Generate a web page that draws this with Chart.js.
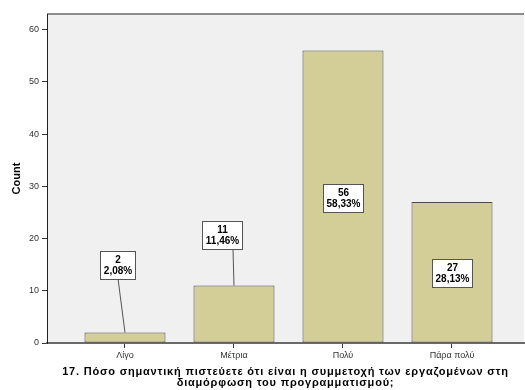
<!DOCTYPE html>
<html>
<head>
<meta charset="utf-8">
<script src="https://cdn.jsdelivr.net/npm/chart.js@4"></script>
<style>
    html, body { margin: 0; padding: 0; background: #fff; overflow: hidden; }
    #wrap { width: 525px; height: 390px; }
</style>
</head>
<body>
<div id="wrap"><canvas id="chart" width="525" height="390"></canvas></div>
<script>
// Answers to question 17
const categories = ['Λίγο', 'Μέτρια', 'Πολύ', 'Πάρα πολύ'];
const counts = [2, 11, 56, 27];
const percents = ['2,08%', '11,46%', '58,33%', '28,13%'];
const yTicks = [0, 10, 20, 30, 40, 50, 60];
const xTitle = ['17. Πόσο σημαντική πιστεύετε ότι είναι η συμμετοχή των εργαζομένων στη',
                'διαμόρφωση του προγραμματισμού;'];

const FONT = '"Liberation Sans", Arial, sans-serif';

// Short bars get their label box lifted above the bar with a leader line
const callouts = [
    { dx: -7, dy: -68, lead: 0 },
    { dx: -12, dy: -51, lead: 11 },
    null,
    null
];

// Grey plot background with a border line on top
const plotBackground = {
    id: 'plotBackground',
    beforeDraw(chart) {
        const { ctx, chartArea: a } = chart;
        ctx.save();
        ctx.fillStyle = '#f0f0f0';
        ctx.fillRect(a.left, a.top, a.right - a.left, a.bottom - a.top);
        ctx.strokeStyle = '#8c8c8c';
        ctx.lineWidth = 2;
        ctx.beginPath();
        ctx.moveTo(a.left, a.top);
        ctx.lineTo(a.right, a.top);
        ctx.stroke();
        ctx.restore();
    }
};

// Count / percent boxes on each bar
const barLabels = {
    id: 'barLabels',
    afterDatasetsDraw(chart) {
        const ctx = chart.ctx;
        const meta = chart.getDatasetMeta(0);
        ctx.save();
        ctx.font = 'bold 10px ' + FONT;
        ctx.textAlign = 'center';
        ctx.textBaseline = 'middle';
        meta.data.forEach((bar, i) => {
            const lines = [String(counts[i]), percents[i]];
            const w = Math.ceil(Math.max(...lines.map(t => ctx.measureText(t).width))) + 6;
            const h = 28;
            let cx = bar.x;
            let cy = (bar.y + bar.base) / 2 + 1;
            const c = callouts[i];
            if (c) {
                cx = bar.x + c.dx;
                cy = bar.y + c.dy;
                ctx.strokeStyle = '#555';
                ctx.lineWidth = 1;
                ctx.beginPath();
                ctx.moveTo(cx + c.lead, cy + h / 2);
                ctx.lineTo(bar.x, bar.y);
                ctx.stroke();
            }
            const x0 = Math.round(cx - w / 2) + 0.5;
            const y0 = Math.round(cy - h / 2) + 0.5;
            ctx.fillStyle = '#fff';
            ctx.fillRect(x0, y0, w, h);
            ctx.strokeStyle = '#555';
            ctx.lineWidth = 1;
            ctx.strokeRect(x0, y0, w, h);
            ctx.fillStyle = '#000';
            ctx.fillText(lines[0], x0 + w / 2, y0 + h / 2 - 5);
            ctx.fillText(lines[1], x0 + w / 2, y0 + h / 2 + 6);
        });
        ctx.restore();
    }
};

// Two-line variable title under the x axis, slightly letter-spaced
const axisTitle = {
    id: 'axisTitle',
    afterDraw(chart) {
        const { ctx, chartArea: a } = chart;
        ctx.save();
        ctx.font = 'bold 11px ' + FONT;
        ctx.letterSpacing = '0.8px';
        ctx.fillStyle = '#000';
        ctx.textAlign = 'center';
        ctx.textBaseline = 'middle';
        const cx = (a.left + a.right) / 2;
        xTitle.forEach((t, i) => ctx.fillText(t, cx, 371.5 + i * 11.5));
        ctx.restore();
    }
};

new Chart(document.getElementById('chart'), {
    type: 'bar',
    data: {
        datasets: [{
            data: counts.map((v, i) => ({ x: i, y: v })),
            backgroundColor: '#d3ce97',
            borderColor: '#4a4a4a',
            borderWidth: 1,
            borderSkipped: false,
            categoryPercentage: 1,
            barPercentage: 0.743
        }]
    },
    options: {
        responsive: false,
        animation: false,
        layout: { padding: { top: 14, right: 1, left: 0, bottom: 0 } },
        plugins: {
            legend: { display: false },
            tooltip: { enabled: false }
        },
        scales: {
            x: {
                type: 'linear',
                offset: false,
                min: -0.7156,
                max: 3.6606,
                afterBuildTicks: scale => {
                    scale.ticks = categories.map((c, i) => ({ value: i }));
                },
                afterFit: scale => { scale.height = 47; },
                ticks: {
                    autoSkip: false,
                    maxRotation: 0,
                    padding: 2,
                    color: '#333',
                    font: { family: FONT, size: 9 },
                    callback: v => categories[v]
                },
                grid: {
                    offset: false,
                    drawOnChartArea: false,
                    tickLength: 5,
                    color: '#333'
                },
                border: { color: '#6a6a6a', width: 2 }
            },
            y: {
                min: 0,
                max: 63,
                afterBuildTicks: scale => {
                    scale.ticks = yTicks.map(v => ({ value: v }));
                },
                afterFit: scale => { scale.width = 47; },
                ticks: {
                    padding: 3,
                    color: '#333',
                    font: { family: FONT, size: 9 }
                },
                grid: {
                    drawOnChartArea: false,
                    tickLength: 5,
                    color: '#333'
                },
                border: { color: '#222', width: 1 },
                title: {
                    display: true,
                    text: 'Count',
                    color: '#000',
                    font: { family: FONT, size: 11, weight: 'bold' },
                    padding: { top: 10, bottom: 0 }
                }
            }
        }
    },
    plugins: [plotBackground, barLabels, axisTitle]
});
</script>
</body>
</html>
